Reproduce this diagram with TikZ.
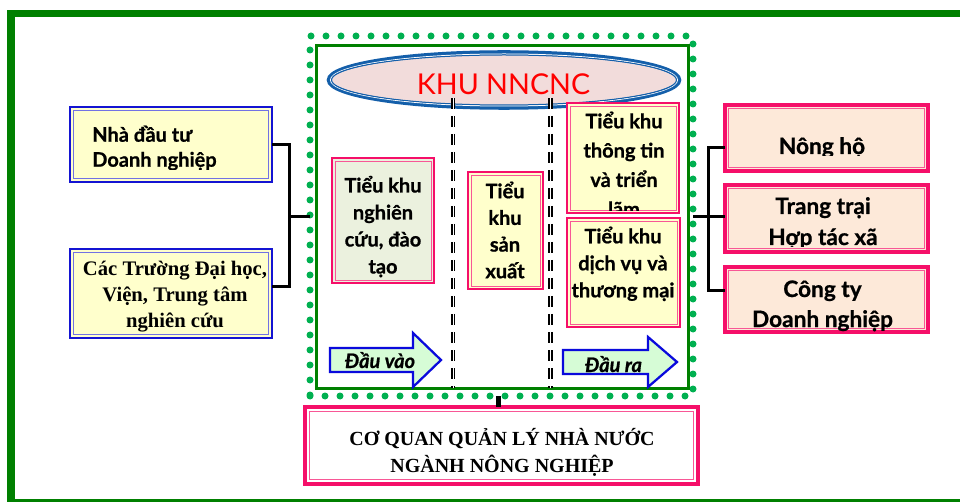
\documentclass[tikz,border=0pt]{standalone}
\usepackage{fontspec}
\usetikzlibrary{shapes.geometric}
\newfontfamily\lato{Lato}[BoldFeatures={FakeBold=0.8},BoldItalicFeatures={FakeBold=0.8}]
\newfontfamily\tnr{Liberation Serif}
\definecolor{frameg}{RGB}{0,128,0}
\definecolor{dotg}{RGB}{0,176,80}
\definecolor{ellblue}{RGB}{20,95,170}
\definecolor{ellpink}{RGB}{242,220,219}
\definecolor{bblue}{RGB}{20,20,210}
\definecolor{pinkc}{RGB}{245,15,105}
\definecolor{yel}{RGB}{255,255,204}
\definecolor{grn}{RGB}{235,241,222}
\definecolor{peach}{RGB}{253,233,217}
\definecolor{arrg}{RGB}{214,252,214}
\definecolor{arrb}{RGB}{10,10,220}
\tikzset{
  framebox/.style={rectangle, inner sep=0pt, outer sep=0pt},
  bluebox/.style={framebox, fill=yel, draw=bblue, line width=2pt,
    path picture={\draw[bblue!60, line width=0.6pt]
      ([shift={(2.4pt,-2.4pt)}]path picture bounding box.north west) rectangle
      ([shift={(-2.4pt,2.4pt)}]path picture bounding box.south east);}},
  pinkbox/.style 2 args={framebox, draw=pinkc, line width=#1,
    path picture={\draw[pinkc!70, line width=0.6pt]
      ([shift={(#2,-#2)}]path picture bounding box.north west) rectangle
      ([shift={(-#2,#2)}]path picture bounding box.south east);}},
  zonebox/.style={framebox, draw=dotg, line width=5.25pt, dash pattern=on 0pt off 11.25pt, line cap=round},
  innerbox/.style={framebox, draw=frameg, line width=2.25pt},
  ddash/.style={draw=black, double=white, line width=1pt, double distance=1.1pt, dash pattern=on 8.25pt off 5.25pt},
  arrowsh/.style={fill=arrg, draw=arrb, line width=1.7pt, line join=miter},
  conn/.style={draw=black, line width=2.25pt, line join=miter},
  tx/.style 2 args={inner sep=0pt, align=center, font=\lato\bfseries\fontsize{#1}{#2}\selectfont},
  ts/.style 2 args={inner sep=0pt, align=center, font=\tnr\bfseries\fontsize{#1}{#2}\selectfont},
  ti/.style={inner sep=0pt, anchor=base, font=\lato\bfseries\itshape\fontsize{15pt}{18pt}\selectfont}
}
\begin{document}
\begin{tikzpicture}[x=0.75pt,y=-0.75pt]
\useasboundingbox (0,0) rectangle (960,502);
\clip (0,0) rectangle (960,502);
\fill[white] (0,0) rectangle (960,502);
% outer frame
\draw[frameg, line width=5.6pt] (11,13.7) rectangle (985,503);
% zone
\node[zonebox, minimum width=287.25pt, minimum height=270pt] (zone) at (501.5,216) {};
\node[innerbox, minimum width=279pt, minimum height=256.5pt] (inner) at (502,217) {};
% ellipse
\node[ellipse, draw=ellblue, line width=3.4pt, fill=ellpink, inner sep=0pt,
      minimum width=262.5pt, minimum height=41.25pt] (khu) at (504,80) {};
\draw[white, line width=0.75pt] (khu.center) ellipse [x radius=173.5, y radius=26];
\draw[ellblue, line width=0.75pt] (khu.center) ellipse [x radius=172.5, y radius=25];
\node[inner sep=0pt, anchor=base, text=red, font=\lato\fontsize{21.5pt}{26pt}\selectfont] (khut) at (503.5,95) {KHU NNCNC};
% separators
\draw[ddash] (453.3,98) -- (453.3,388);
\draw[ddash] (550.5,98) -- (550.5,388);
% boxes
\node[bluebox, minimum width=151.5pt, minimum height=56.25pt] (B1) at (171,144.5) {};
\node[bluebox, minimum width=151.5pt, minimum height=66.75pt] (B2) at (171,293.5) {};
\node[pinkbox={1.7pt}{2.3pt}, fill=grn, minimum width=76.5pt, minimum height=93.75pt] (M1) at (383,220.5) {};
\node[pinkbox={1.7pt}{2.3pt}, fill=yel, minimum width=56.25pt, minimum height=87.75pt] (M2) at (505.5,230.5) {};
\node[pinkbox={1.7pt}{2.3pt}, fill=yel, minimum width=84pt, minimum height=82.5pt] (M3) at (623,158) {};
\node[pinkbox={1.7pt}{2.3pt}, fill=yel, minimum width=84.75pt, minimum height=81.75pt] (M4) at (623.5,272.5) {};
\node[pinkbox={2.4pt}{2.7pt}, fill=peach, minimum width=152.25pt, minimum height=49.5pt] (R1) at (826.5,138) {};
\node[pinkbox={2.4pt}{2.7pt}, fill=peach, minimum width=152.25pt, minimum height=50.25pt] (R2) at (826.5,218.5) {};
\node[pinkbox={2.4pt}{2.7pt}, fill=peach, minimum width=152.25pt, minimum height=48.75pt] (R3) at (826.5,299.5) {};
\node[pinkbox={3.4pt}{3.2pt}, fill=white, minimum width=294.75pt, minimum height=57.75pt] (Q) at (501.5,445.5) {};
% arrows
\draw[arrowsh] (330,348) -- (413,348) -- (413,333) -- (441,360) -- (413,387) -- (413,372) -- (330,372) -- cycle;
\draw[arrowsh] (563,350) -- (648,350) -- (648,337) -- (677,362) -- (648,387) -- (648,374) -- (563,374) -- cycle;
\node[ti] (inlab) at (380,368) {Đầu vào};
\node[ti] (outlab) at (613.5,372) {Đầu ra};
% texts
\begin{scope}
\clip (60,100) rectangle (285,170);
\node[tx={15pt}{18.75pt}, anchor=west, align=left] (B1t) at (92,149.2) {\strut Nhà đầu tư\\\strut Doanh nghiệp};
\end{scope}
\node[ts={15.5pt}{19.8pt}] (B2t) at (175,296.2) {\strut Các Trường Đại học,\\\strut Viện, Trung tâm\\\strut nghiên cứu};
\node[tx={15pt}{20.25pt}] (M1t) at (383,227.6) {\strut Tiểu khu\\\strut nghiên\\\strut cứu, đào\\\strut tạo};
\node[tx={15pt}{20pt}] (M2t) at (505,232.9) {\strut Tiểu\\\strut khu\\\strut sản\\\strut xuất};
\begin{scope}
\clip (560,100) rectangle (690,211);
\node[tx={15pt}{22pt}] (M3t) at (624,166.4) {\strut Tiểu khu\\\strut thông tin\\\strut và triển\\\strut lãm};
\end{scope}
\node[tx={15pt}{20.25pt}] (M4t) at (623,264.9) {\strut Tiểu khu\\\strut dịch vụ và\\\strut thương mại};
\begin{scope}
\clip (715,100) rectangle (935,156);
\node[tx={17pt}{23pt}, anchor=base] (R1t) at (822,154) {Nông hộ};
\end{scope}
\begin{scope}
\clip (715,180) rectangle (935,247);
\node[tx={17pt}{23.25pt}] (R2t) at (823,223.3) {\strut Trang trại\\\strut Hợp tác xã};
\end{scope}
\begin{scope}
\clip (715,262) rectangle (935,331);
\node[tx={17pt}{22.5pt}] (R3t) at (822.5,306) {\strut Công ty\\\strut Doanh nghiệp};
\end{scope}
\node[ts={15pt}{20.25pt}] (Qt) at (502,453.1) {\strut CƠ QUAN QUẢN LÝ NHÀ NƯỚC\\\strut NGÀNH NÔNG NGHIỆP};
% connectors
\coordinate (jl) at (289,217);
\draw[conn] (B1.east) -| (jl) |- (B2.east |- 0,287);
\draw[conn] (jl) -- (zone.west |- jl);
\coordinate (jr) at (708,217);
\draw[conn] (R1.west |- 0,148) -| (jr) |- (R3.west |- 0,291);
\draw[conn] (zone.east |- jr) -- (R2.west |- jr);
\draw[conn, line width=3.75pt] (zone.south -| 498,0) -- (Q.north -| 498,0);
\end{tikzpicture}
\end{document}
